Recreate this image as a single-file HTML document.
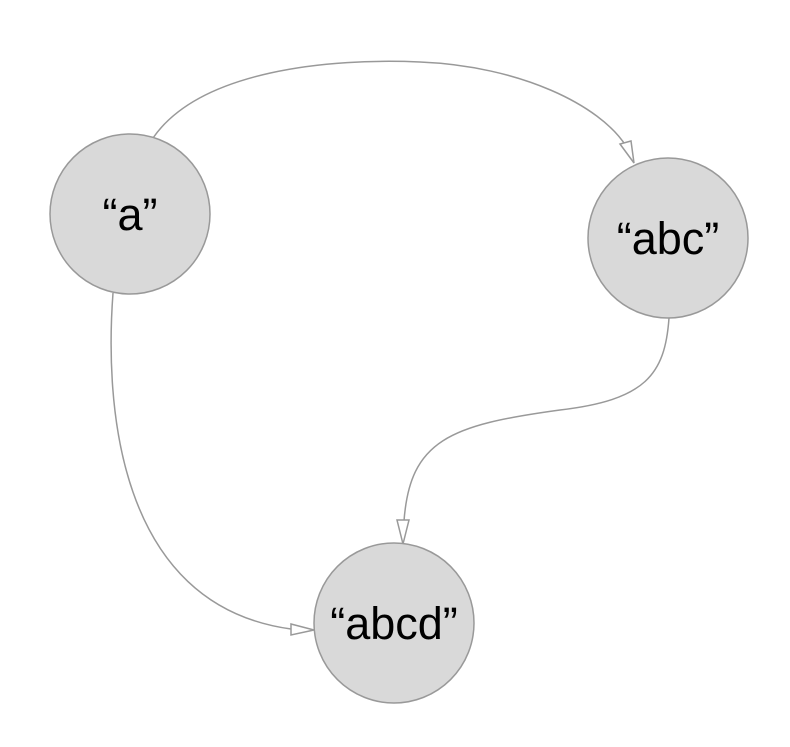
<!DOCTYPE html>
<html><head><style>body{margin:0;background:#fff}</style></head><body>
<svg width="790" height="742" xmlns="http://www.w3.org/2000/svg">
<g fill="none" stroke="#999" stroke-width="1.5">
<path d="M153,138 C200,70 330,58 420,62 C520,66 600,105 626,146"/>
<path d="M113,293 C105,400 115,605 291,629"/>
<path d="M669,318 C665,375 645,400 560,410 C450,425 410,440 404,521"/>
</g>
<g fill="#fff" stroke="#999" stroke-width="1.5">
<polygon points="634,163 620,144 631,141"/>
<polygon points="314,630 291,624 291,635"/>
<polygon points="403,544 397,520 409,520"/>
</g>
<g fill="#d9d9d9" stroke="#999" stroke-width="1.5">
<circle cx="130" cy="214" r="80"/>
<circle cx="668" cy="238" r="80"/>
<circle cx="394" cy="623" r="80"/>
</g>
<g font-family="Liberation Sans, sans-serif" font-size="45" text-anchor="middle" fill="#000">
<text x="130" y="230">“a”</text>
<text x="668" y="254">“abc”</text>
<text x="394" y="639">“abcd”</text>
</g>
</svg>
</body></html>
